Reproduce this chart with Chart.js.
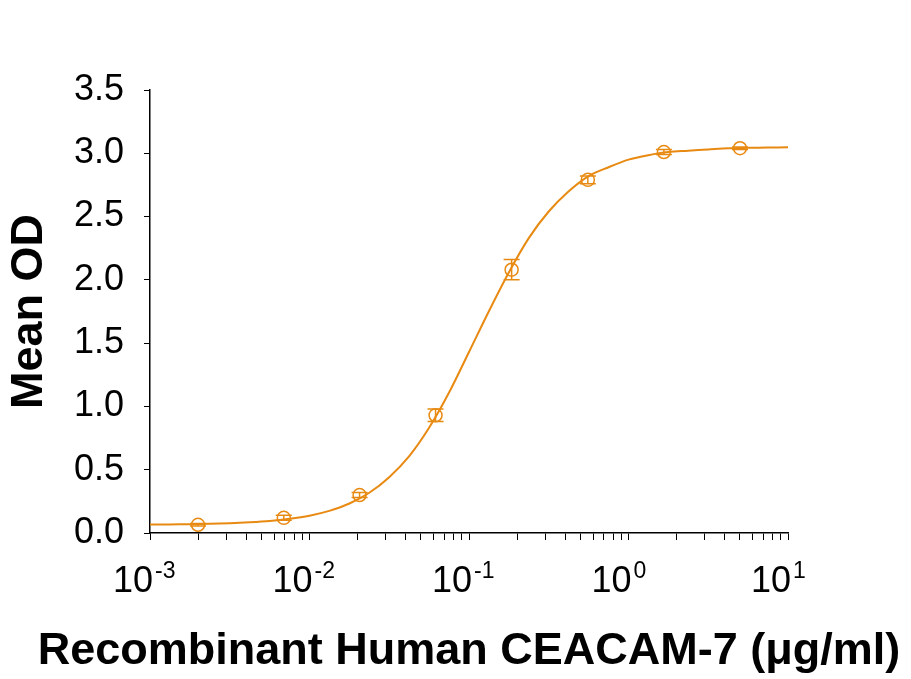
<!DOCTYPE html>
<html>
<head>
<meta charset="utf-8">
<script src="https://cdn.jsdelivr.net/npm/chart.js@4"></script>
<style>
	body { margin: 0; background: #fff; }
</style>
</head>
<body>
<canvas id="chart" width="911" height="679"></canvas>
<script>
// measured points (ug/ml) with mean OD and error
const conc = [0.002, 0.0069, 0.0206, 0.0617, 0.185, 0.556, 1.667, 5];
const meanOD = [0.065, 0.12, 0.30, 0.93, 2.08, 2.79, 3.01, 3.04];
const errOD = [0.01, 0.02, 0.02, 0.05, 0.08, 0.03, 0.02, 0.01];

// fitted curve
const fitX = [0.001, 0.00133, 0.00178, 0.00237, 0.00316, 0.00422, 0.00562, 0.0075,
	0.01, 0.0133, 0.0178, 0.0237, 0.0316, 0.0422, 0.0562, 0.075,
	0.1, 0.133, 0.178, 0.237, 0.316, 0.422, 0.562, 0.75,
	1, 1.33, 1.78, 2.37, 3.16, 4.22, 5.62, 7.5, 10];
const fitY = [0.067, 0.068, 0.07, 0.073, 0.078, 0.085, 0.095, 0.112,
	0.137, 0.175, 0.233, 0.318, 0.441, 0.608, 0.832, 1.11,
	1.43, 1.75, 2.06, 2.33, 2.54, 2.70, 2.82, 2.89,
	2.95, 2.985, 3.01, 3.02, 3.03, 3.04, 3.043, 3.045, 3.047];

const decades = [0.001, 0.01, 0.1, 1, 10];
const exponents = ["-3", "-2", "-1", "0", "1"];
const yTicks = [0, 0.5, 1, 1.5, 2, 2.5, 3, 3.5];
const xTitle = "Recombinant Human CEACAM-7 (\u03bcg/ml)";

const orange = "rgb(232, 138, 18)";
const font = "'Liberation Sans', Arial, sans-serif";

const xTickValues = [];
decades.forEach((d, i) => {
	if (i === decades.length - 1) { xTickValues.push(d); return; }
	for (let m = 1; m <= 9; m++) xTickValues.push(+(d * m).toPrecision(3));
});

const errorBars = {
	id: "errorBars",
	afterDatasetsDraw(chart) {
		const { ctx, scales: { x, y } } = chart;
		ctx.save();
		ctx.strokeStyle = orange;
		ctx.lineWidth = 1.5;
		conc.forEach((c, i) => {
			const px = x.getPixelForValue(c);
			const top = y.getPixelForValue(meanOD[i] + errOD[i]);
			const bot = y.getPixelForValue(meanOD[i] - errOD[i]);
			ctx.beginPath();
			ctx.moveTo(px, top); ctx.lineTo(px, bot);
			ctx.moveTo(px - 8, top); ctx.lineTo(px + 8, top);
			ctx.moveTo(px - 8, bot); ctx.lineTo(px + 8, bot);
			ctx.stroke();
		});
		ctx.restore();
	}
};

// 10^n labels and the x title (title is wider than the axis, so drawn here)
const xLabels = {
	id: "xLabels",
	afterDraw(chart) {
		const { ctx, scales: { x }, chartArea } = chart;
		ctx.save();
		ctx.fillStyle = "#000";
		ctx.textBaseline = "alphabetic";
		decades.forEach((d, i) => {
			const px = x.getPixelForValue(d);
			ctx.font = "36px " + font;
			ctx.textAlign = "right";
			ctx.fillText("10", px + 3, 592);
			ctx.font = "23px " + font;
			ctx.textAlign = "left";
			ctx.fillText(exponents[i], px + 5, 578);
		});
		ctx.font = "bold 45px " + font;
		ctx.textAlign = "center";
		ctx.fillText(xTitle, (chartArea.left + chartArea.right) / 2, 664);
		ctx.restore();
	}
};

new Chart(document.getElementById("chart"), {
	type: "scatter",
	data: {
		datasets: [
			{
				type: "line",
				data: fitX.map((v, i) => ({ x: v, y: fitY[i] })),
				borderColor: orange,
				borderWidth: 2,
				pointRadius: 0,
				tension: 0.3,
				fill: false
			},
			{
				data: conc.map((v, i) => ({ x: v, y: meanOD[i] })),
				pointStyle: "circle",
				pointRadius: 6.5,
				borderWidth: 1.5,
				borderColor: orange,
				backgroundColor: "rgba(0,0,0,0)"
			}
		]
	},
	options: {
		responsive: false,
		animation: false,
		layout: { padding: { top: 90, right: 123, left: 0, bottom: 0 } },
		scales: {
			x: {
				type: "logarithmic",
				min: 0.001,
				max: 10,
				afterBuildTicks: axis => (axis.ticks = xTickValues.map(value => ({ value }))),
				afterFit: s => { s.height = 146; },
				ticks: { display: false, autoSkip: false },
				grid: { drawOnChartArea: false, tickLength: 7, color: "#000", lineWidth: 1 },
				border: { color: "#000", width: 1.5 }
			},
			y: {
				min: 0,
				max: 3.5,
				afterBuildTicks: axis => (axis.ticks = yTicks.map(value => ({ value }))),
				afterFit: s => { s.width = 150; },
				ticks: {
					color: "#000",
					padding: 20,
					font: { family: font, size: 36 },
					callback: v => v.toFixed(1)
				},
				grid: { drawOnChartArea: false, tickLength: 6, color: "#000", lineWidth: 1 },
				border: { color: "#000", width: 1.5 },
				title: {
					display: true,
					text: "Mean OD",
					color: "#000",
					font: { family: font, size: 45, weight: "bold" },
					padding: { top: 3, bottom: 0 }
				}
			}
		},
		plugins: {
			legend: { display: false },
			tooltip: { enabled: false }
		}
	},
	plugins: [errorBars, xLabels]
});
</script>
</body>
</html>
